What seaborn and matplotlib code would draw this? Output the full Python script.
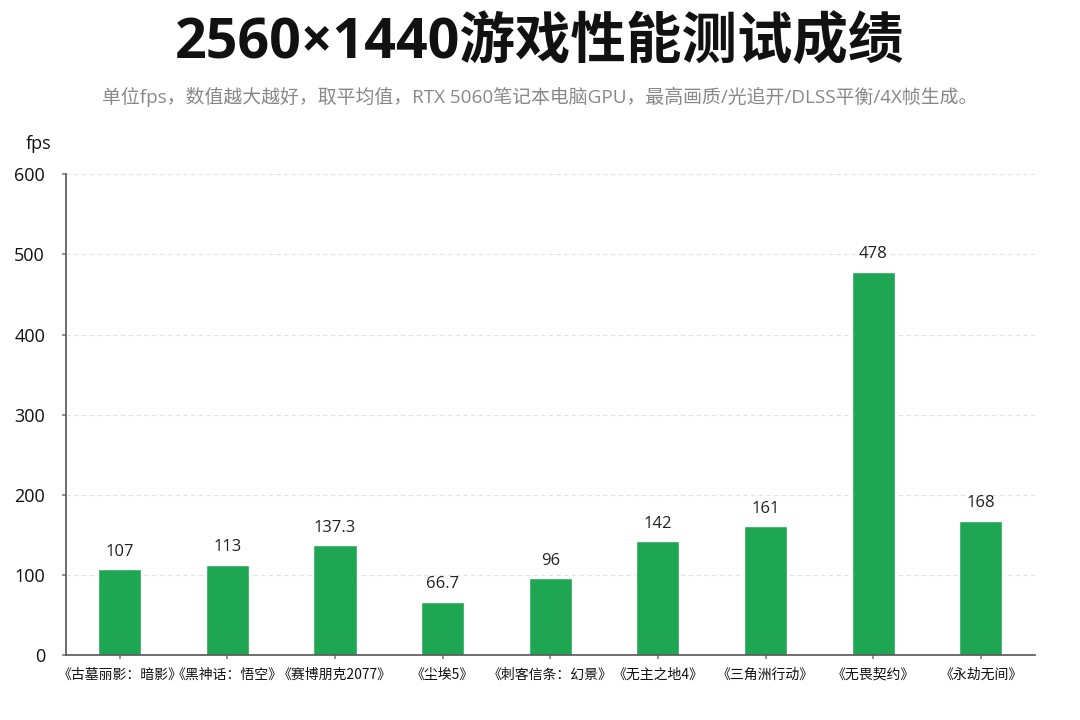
import seaborn as sns
import matplotlib.pyplot as plt
import pandas as pd

# data
games = ['《古墓丽影：暗影》', '《黑神话：悟空》', '《赛博朋克2077》', '《尘埃5》',
         '《刺客信条：幻景》', '《无主之地4》', '《三角洲行动》', '《无畏契约》', '《永劫无间》']
fps = [107, 113, 137.3, 66.7, 96, 142, 161, 478, 168]
fps_labels = ['107', '113', '137.3', '66.7', '96', '142', '161', '478', '168']
y_ticks = [0, 100, 200, 300, 400, 500, 600]

df = pd.DataFrame({'game': games, 'fps': fps})

sns.set_theme(style="white")
plt.rcParams['font.family'] = ['Open Sans', 'Noto Sans CJK SC', 'DejaVu Sans']

fig = plt.figure(figsize=(10.8, 7.2), dpi=100)
ax = fig.add_axes([0.061, 0.090, 0.897, 0.668])

sns.barplot(data=df, x='game', y='fps', color='#1fa653', saturation=1, width=0.4, ax=ax)

for i, (v, lab) in enumerate(zip(fps, fps_labels)):
    ax.text(i, v + 12, lab, ha='center', va='bottom', fontsize=12, color='#222222')

ax.set_ylim(0, 600)
ax.set_xlim(-0.5, len(games) - 0.5)
ax.set_yticks(y_ticks)
ax.set_yticklabels([str(t) for t in y_ticks], fontsize=13, color='#111111')
ax.set_xticks(range(len(games)))
ax.set_xticklabels(games, fontsize=10, color='#111111', fontweight='medium',
                   family=['Noto Sans CJK SC', 'DejaVu Sans'])
ax.tick_params(axis='x', length=3, color='#888888', pad=6, bottom=True)
ax.tick_params(axis='y', length=3, color='#888888', pad=12, left=True)
ax.yaxis.grid(True, linestyle=(0, (4, 3)), color='#e3e3e3', linewidth=0.8)
ax.set_axisbelow(True)
for s in ['top', 'right']:
    ax.spines[s].set_visible(False)
for s in ['left', 'bottom']:
    ax.spines[s].set_color('#555555')
    ax.spines[s].set_linewidth(1.2)
ax.set_xlabel('')
ax.set_ylabel('')

fig.text(0.036, 0.80, 'fps', fontsize=13, ha='center', va='center', color='#111111')
fig.text(0.5, 0.94, '2560×1440游戏性能测试成绩', fontsize=40, fontweight='bold',
         ha='center', va='center', color='#111111')
fig.text(0.5, 0.865, '单位fps，数值越大越好，取平均值，RTX 5060笔记本电脑GPU，最高画质/光追开/DLSS平衡/4X帧生成。',
         fontsize=13.6, ha='center', va='center', color='#888888')

plt.savefig('out.png', dpi=100)
